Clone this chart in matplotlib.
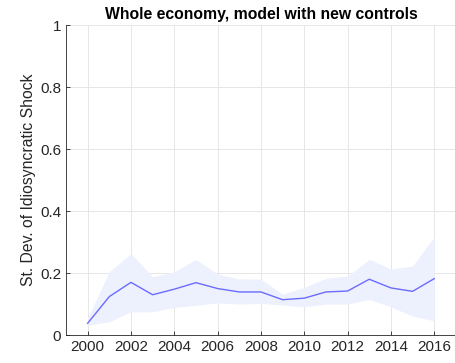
import matplotlib.pyplot as plt

# yearly estimates with confidence band
years = list(range(2000, 2017))
sd_mean = [0.038, 0.124, 0.170, 0.130, 0.148, 0.169, 0.150, 0.139, 0.139,
           0.114, 0.119, 0.139, 0.142, 0.180, 0.152, 0.141, 0.182]
sd_upper = [0.055, 0.204, 0.263, 0.188, 0.204, 0.244, 0.197, 0.181, 0.180,
            0.132, 0.154, 0.183, 0.190, 0.244, 0.213, 0.223, 0.317]
sd_lower = [0.032, 0.043, 0.075, 0.075, 0.089, 0.096, 0.104, 0.100, 0.102,
            0.097, 0.091, 0.100, 0.100, 0.115, 0.091, 0.061, 0.046]

plt.rcParams['font.family'] = ['Liberation Sans', 'DejaVu Sans']

fig = plt.figure(figsize=(4.55, 3.63), dpi=100)
ax = fig.add_axes([0.145, 0.077, 0.857, 0.854])

ax.fill_between(years, sd_lower, sd_upper, color="#edf1fd", linewidth=0)
ax.plot(years, sd_mean, color="#6b6bff", linewidth=1)

ax.set_xlim(1999, 2017)
ax.set_ylim(0, 1)
ax.set_xticks(range(2000, 2017, 2))
ax.set_yticks([0, 0.2, 0.4, 0.6, 0.8, 1])
ax.set_yticklabels(["0", "0.2", "0.4", "0.6", "0.8", "1"])
ax.grid(True, color="#e6e6e6", linewidth=0.7)
ax.set_axisbelow(True)

for side in ["top", "right"]:
    ax.spines[side].set_visible(False)
for side in ["left", "bottom"]:
    ax.spines[side].set_color("#262626")
    ax.spines[side].set_linewidth(0.6)
ax.tick_params(direction="in", length=3, width=0.6, colors="#262626",
               labelsize=11)

ax.set_ylabel("St. Dev. of Idiosyncratic Shock", fontsize=11.3,
              color="#262626", labelpad=3)
ax.set_title("Whole economy, model with new controls", fontsize=11.3,
             fontweight="bold", pad=4)

fig.savefig("out.png", dpi=100)
